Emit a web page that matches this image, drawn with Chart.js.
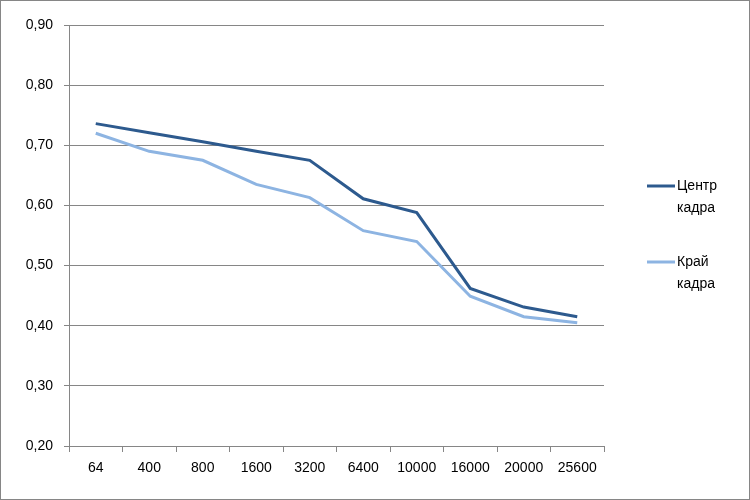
<!DOCTYPE html>
<html>
<head>
<meta charset="utf-8">
<script src="https://cdn.jsdelivr.net/npm/chart.js@4/dist/chart.umd.min.js"></script>
<style>
  body { margin: 0; background: #fff; }
  #wrap { position: absolute; left: 0; top: 0; width: 748px; height: 498px; border: 1px solid #868686; }
</style>
</head>
<body>
<div id="wrap"><canvas id="chart" width="748" height="498"></canvas></div>
<script>
const categories = ['64', '400', '800', '1600', '3200', '6400', '10000', '16000', '20000', '25600'];
const centerValues = [0.736, 0.721, 0.706, 0.690, 0.675, 0.611, 0.588, 0.462, 0.431, 0.415];
const edgeValues = [0.720, 0.690, 0.675, 0.635, 0.613, 0.558, 0.540, 0.449, 0.415, 0.405];
const seriesLabels = [['Центр', 'кадра'], ['Край', 'кадра']];
const yTicks = { min: 0.2, max: 0.9, step: 0.1 };

const gridColor = '#868686';
const font = { family: '"Liberation Sans", Arial, sans-serif', size: 14 };

// legend on the right, two lines per entry like the original
const sideLegend = {
  id: 'sideLegend',
  afterDraw(chart) {
    const ctx = chart.ctx;
    const ys = [185, 261];
    ctx.save();
    ctx.font = font.size + 'px ' + font.family;
    ctx.fillStyle = '#000';
    ctx.textBaseline = 'middle';
    chart.data.datasets.forEach((ds, i) => {
      const y = ys[i];
      ctx.strokeStyle = ds.borderColor;
      ctx.lineWidth = 3;
      ctx.beginPath();
      ctx.moveTo(646, y);
      ctx.lineTo(674, y);
      ctx.stroke();
      ds.label.forEach((line, j) => {
        ctx.fillText(line, 676, y + j * 22);
      });
    });
    ctx.restore();
  }
};

new Chart(document.getElementById('chart').getContext('2d'), {
  type: 'line',
  data: {
    labels: categories,
    datasets: [
      {
        label: seriesLabels[0],
        data: centerValues,
        borderColor: '#2d5a8e',
        borderWidth: 3,
        pointRadius: 0,
        tension: 0,
      },
      {
        label: seriesLabels[1],
        data: edgeValues,
        borderColor: '#8db4e2',
        borderWidth: 3,
        pointRadius: 0,
        tension: 0,
      },
    ],
  },
  options: {
    responsive: false,
    animation: false,
    layout: { padding: { left: 0, right: 145, top: 24, bottom: 0 } },
    plugins: { legend: { display: false }, tooltip: { enabled: false } },
    scales: {
      x: {
        offset: true,
        grid: { offset: true, drawOnChartArea: false, drawTicks: true, tickLength: 6, color: gridColor },
        border: { color: gridColor, width: 1 },
        ticks: { color: '#000', font: font, padding: 8, maxRotation: 0, autoSkip: false },
        afterFit(scale) { scale.height = 53; },
      },
      y: {
        min: yTicks.min,
        max: yTicks.max,
        grid: { color: gridColor, tickLength: 5 },
        border: { color: gridColor, width: 1 },
        ticks: {
          stepSize: yTicks.step,
          color: '#000',
          font: font,
          padding: 11,
          callback: (v) => v.toFixed(2).replace('.', ','),
        },
        afterFit(scale) { scale.width = 68; },
      },
    },
  },
  plugins: [sideLegend],
});
</script>
</body>
</html>
